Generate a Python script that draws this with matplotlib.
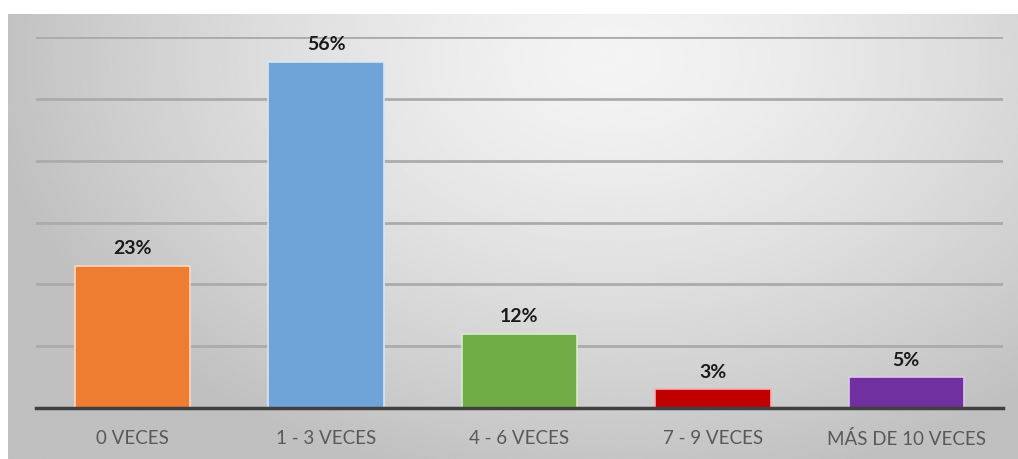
import numpy as np
import matplotlib
matplotlib.use("Agg")
import matplotlib.pyplot as plt

categories = ["0 VECES", "1 - 3 VECES", "4 - 6 VECES", "7 - 9 VECES", "MÁS DE 10 VECES"]
values = [23, 56, 12, 3, 5]
labels = ["23%", "56%", "12%", "3%", "5%"]
colors = ["#ed7d31", "#6fa4d8", "#70ad47", "#c00000", "#7030a0"]
edges = ["#fbd9c2", "#d6e6f5", "#d8ebcc", "#f3b0b0", "#dcc6ee"]

plt.rcParams["font.family"] = ["Lato", "DejaVu Sans"]

W, H = 1018, 459
fig = plt.figure(figsize=(W / 100, H / 100), dpi=100)

# gradient background panel
bg = fig.add_axes([8 / W, 0.0, 1 - 8 / W, 1 - 14 / H])
yy, xx = np.mgrid[0:1:300j, 0:1:600j]
r = np.sqrt(((xx - 0.6) / 0.7) ** 2 + ((yy - 0.1) / 1.1) ** 2)
shade = np.clip(0.955 - 0.24 * r ** 1.4, 0.75, 0.96)
bg.imshow(shade, cmap="gray", vmin=0, vmax=1, aspect="auto", extent=[0, 1, 1, 0])
bg.set_axis_off()

# plot area: x 36..1003, y baseline 408, top gridline 37
ax = fig.add_axes([36 / W, (H - 408) / H, (1003 - 36) / W, (408 - 37) / H])
ax.patch.set_alpha(0)
x = np.arange(len(categories))
ax.bar(x, values, width=0.596, color=colors, edgecolor=edges, linewidth=1.2, zorder=3)
ax.set_xlim(-0.5, len(categories) - 0.5)
ax.set_ylim(0, 60)
ax.set_yticks(np.arange(0, 61, 10))
ax.yaxis.grid(True, color="#ababab", linewidth=2, zorder=1)
ax.tick_params(axis="y", left=False, labelleft=False)
ax.tick_params(axis="x", bottom=False, labelsize=13.5, labelcolor="#595959", pad=12)
ax.set_xticks(x)
ax.set_xticklabels(categories)
for s in ["top", "right", "left"]:
    ax.spines[s].set_visible(False)
ax.spines["bottom"].set_color("#404040")
ax.spines["bottom"].set_linewidth(2.5)
ax.spines["bottom"].set_zorder(4)

for xi, v, lab in zip(x, values, labels):
    ax.annotate(lab, (xi, v), xytext=(0, 6), textcoords="offset points",
                ha="center", va="bottom", fontsize=14, fontweight="bold",
                color="#1a1a1a", zorder=5)

fig.savefig("out.png", dpi=100, facecolor="white")
